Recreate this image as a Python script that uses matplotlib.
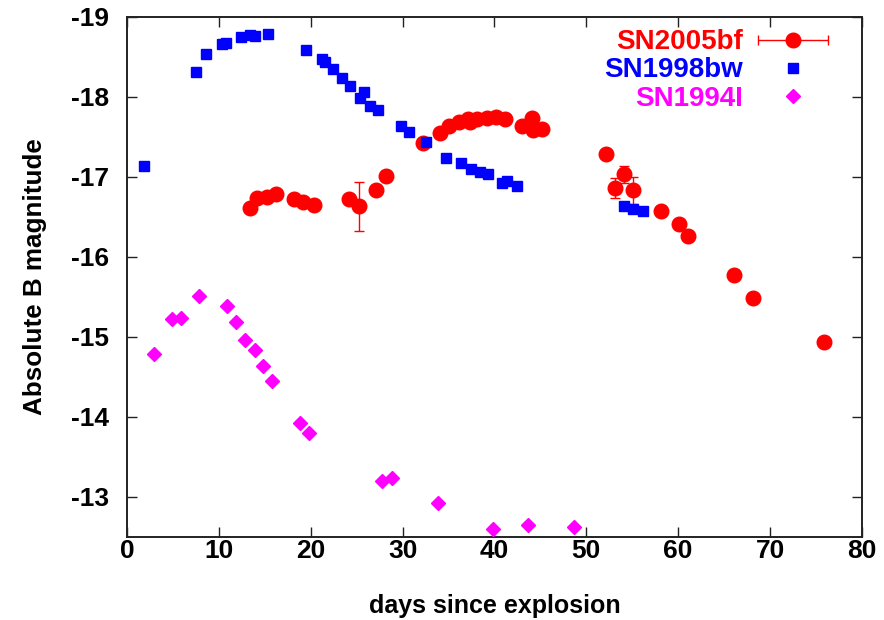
import numpy as np
import matplotlib
matplotlib.use("Agg")
import matplotlib.pyplot as plt
from matplotlib.legend_handler import HandlerErrorbar

plt.rcParams['font.family'] = ['Liberation Sans', 'DejaVu Sans']
plt.rcParams['axes.unicode_minus'] = False

# SN2005bf (red circles)
bf_day = [13.4, 14.2, 15.2, 16.2, 18.2, 19.2, 20.3, 24.2, 25.3, 27.1, 28.2, 32.2,
          34.1, 35.1, 36.1, 37.1, 37.3, 38.1, 39.2, 40.2, 41.2, 43.0, 44.1, 44.2, 45.2,
          52.1, 53.1, 54.1, 55.1, 58.1, 60.1, 61.1, 66.1, 68.1, 75.9]
bf_mag = [-16.61, -16.73, -16.75, -16.78, -16.72, -16.69, -16.65, -16.72, -16.63, -16.83, -17.01, -17.42,
          -17.55, -17.63, -17.68, -17.72, -17.68, -17.72, -17.73, -17.75, -17.72, -17.63, -17.74, -17.58, -17.60,
          -17.29, -16.86, -17.03, -16.83, -16.57, -16.41, -16.26, -15.77, -15.49, -14.93]
bf_err = [0.03, 0.03, 0.03, 0.03, 0.03, 0.03, 0.03, 0.03, 0.31, 0.03, 0.06, 0.03,
          0.03, 0.03, 0.03, 0.03, 0.03, 0.03, 0.03, 0.03, 0.03, 0.03, 0.03, 0.03, 0.03,
          0.03, 0.12, 0.11, 0.17, 0.03, 0.03, 0.03, 0.06, 0.06, 0.03]

# SN1998bw (blue squares)
bw_day = [1.9, 7.5, 8.6, 10.3, 10.8, 12.4, 13.4, 13.9, 15.3, 19.5, 21.2, 21.5, 22.4,
          23.4, 24.3, 25.4, 25.8, 26.5, 27.3, 29.8, 30.7, 32.5, 34.7, 36.4, 37.4, 38.4,
          39.3, 40.8, 41.4, 42.4, 54.1, 55.1, 56.2]
bw_mag = [-17.13, -18.31, -18.53, -18.66, -18.67, -18.75, -18.77, -18.76, -18.79, -18.59, -18.47, -18.43, -18.35,
          -18.23, -18.13, -17.99, -18.06, -17.89, -17.84, -17.63, -17.56, -17.43, -17.23, -17.17, -17.10, -17.06,
          -17.03, -16.92, -16.95, -16.88, -16.63, -16.60, -16.57]

# SN1994I (magenta diamonds)
i_day = [2.9, 4.9, 5.9, 7.8, 10.9, 11.9, 12.8, 13.9, 14.8, 15.8, 18.8, 19.8,
         27.8, 28.8, 33.8, 39.8, 43.7, 48.7]
i_mag = [-14.78, -15.22, -15.24, -15.51, -15.39, -15.18, -14.96, -14.83, -14.63, -14.45, -13.92, -13.80,
         -13.20, -13.23, -12.92, -12.59, -12.64, -12.62]

labels = ["SN2005bf", "SN1998bw", "SN1994I"]
colors = ["#ff0000", "#0000ff", "#ff00ff"]

TFS = 19
LFS = 20

fig = plt.figure(figsize=(8.84, 6.2), dpi=100)
ax = fig.add_axes([0.1437, 0.1344, 0.8313, 0.8386])

ax.errorbar(bf_day, bf_mag, yerr=bf_err, fmt='o', color=colors[0], ms=10.5,
            elinewidth=1, capsize=3.5, capthick=1, zorder=3)
h2, = ax.plot(bw_day, bw_mag, 's', color=colors[1], ms=7.5, label=labels[1], zorder=4)
h3, = ax.plot(i_day, i_mag, 'D', color=colors[2], ms=7, label=labels[2], zorder=3)
# legend proxy for SN2005bf (horizontal error bar style key)
h1 = ax.errorbar([np.nan], [np.nan], xerr=[1.0], fmt='o', color=colors[0], ms=10.5,
                 elinewidth=1, capsize=3.5, capthick=1, label=labels[0])

ax.set_xlim(0, 80)
ax.set_ylim(-12.5, -19)
ax.set_xticks(range(0, 81, 10))
ax.set_yticks([-19, -18, -17, -16, -15, -14, -13])
ax.tick_params(direction='in', top=True, right=True, length=7, width=1.0,
               labelsize=TFS, colors='#222222', labelcolor='black')
ax.tick_params(axis='x', pad=2)
ax.tick_params(axis='y', pad=13)
for lab in ax.get_xticklabels() + ax.get_yticklabels():
    lab.set_fontweight('bold')
for s in ax.spines.values():
    s.set_linewidth(1.4)
    s.set_color('#222222')

ax.set_xlabel("days since explosion", fontsize=18, fontweight='bold', labelpad=22)
ax.set_ylabel("Absolute B magnitude", fontsize=18.7, fontweight='bold', labelpad=17)

leg = ax.legend(handles=[h1, h2, h3], loc='upper right', markerfirst=False,
                frameon=False, prop={'size': LFS, 'weight': 'bold'},
                handlelength=2.6, handletextpad=0.5,
                labelspacing=0.08, borderaxespad=0.2, bbox_to_anchor=(0.978, 1.008),
                handler_map={type(h1): HandlerErrorbar(xerr_size=1.26)})
for t, c in zip(leg.get_texts(), colors):
    t.set_color(c)
    t.set_ha('right')

fig.savefig("out.png", dpi=100)
